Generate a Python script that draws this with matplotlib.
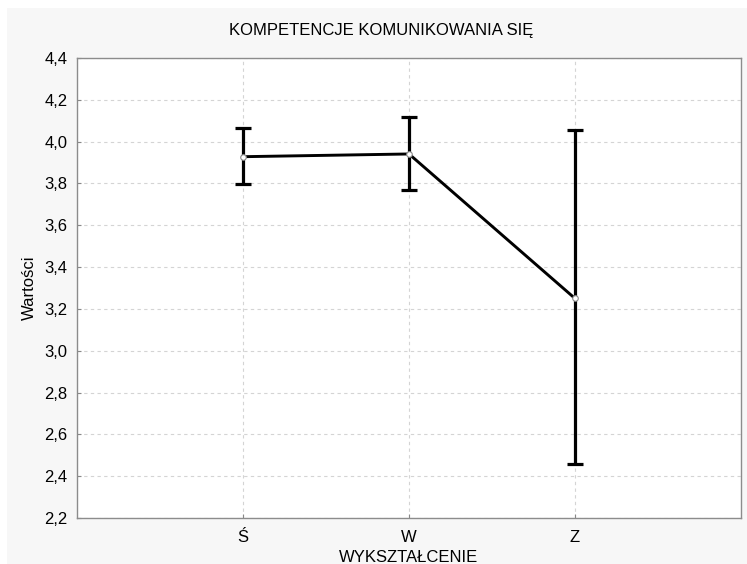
import matplotlib
matplotlib.use("Agg")
import matplotlib.pyplot as plt
from matplotlib.patches import Rectangle
import numpy as np

plt.rcParams['font.family'] = ['Liberation Sans', 'DejaVu Sans']

# poziomy wykształcenia i średnie z przedziałami ufności
kategorie = ["Ś", "W", "Z"]
srednie = [3.928, 3.941, 3.250]
gorna_granica = [4.064, 4.116, 4.054]
dolna_granica = [3.796, 3.769, 2.460]
y_ticks = [2.2, 2.4, 2.6, 2.8, 3.0, 3.2, 3.4, 3.6, 3.8, 4.0, 4.2, 4.4]

fig = plt.figure(figsize=(7.47, 5.64), dpi=100)
fig.patch.set_facecolor("white")
# szare tło panelu
tlo = Rectangle((7 / 747, 0), 1, 1 - 8 / 564, transform=fig.transFigure,
                facecolor="#f7f7f7", edgecolor="none", zorder=-10)
fig.add_artist(tlo)

ax = fig.add_axes([77 / 747, 46 / 564, 664 / 747, 460 / 564])
ax.set_facecolor("white")

x = np.arange(1, len(kategorie) + 1)
srednie = np.array(srednie)
yerr = [srednie - np.array(dolna_granica), np.array(gorna_granica) - srednie]

ax.errorbar(x, srednie, yerr=yerr, fmt="none", ecolor="black", elinewidth=2.3,
            capsize=6, capthick=2.3, zorder=3)
ax.plot(x, srednie, color="black", linewidth=2.1, zorder=4)
ax.plot(x, srednie, linestyle="none", marker="o", markersize=4,
        markerfacecolor="white", markeredgecolor="#888888", markeredgewidth=0.8, zorder=5)

ax.set_xlim(0, 4)
ax.set_ylim(2.2, 4.4)
ax.set_xticks(x)
ax.set_xticklabels(kategorie, fontsize=12)
ax.set_yticks(y_ticks)
ax.set_yticklabels([f"{v:.1f}".replace(".", ",") for v in y_ticks], fontsize=12)
ax.tick_params(axis="y", length=3, direction="in", color="#888888", pad=7)
ax.tick_params(axis="x", length=3, direction="in", color="#888888", pad=9)

ax.grid(True, linestyle=(0, (3, 3)), color="#d4d4d4", linewidth=0.8)
ax.set_axisbelow(True)
for s in ax.spines.values():
    s.set_color("#8c8c8c")
    s.set_linewidth(1.0)

fig.text(381 / 747, 1 - 30 / 564, "KOMPETENCJE KOMUNIKOWANIA SIĘ", fontsize=12,
         ha="center", va="center")
ax.set_xlabel("WYKSZTAŁCENIE", fontsize=12, labelpad=3)
ax.set_ylabel("Wartości", fontsize=12, labelpad=5)

fig.savefig("out.png", dpi=100, facecolor=fig.get_facecolor())
